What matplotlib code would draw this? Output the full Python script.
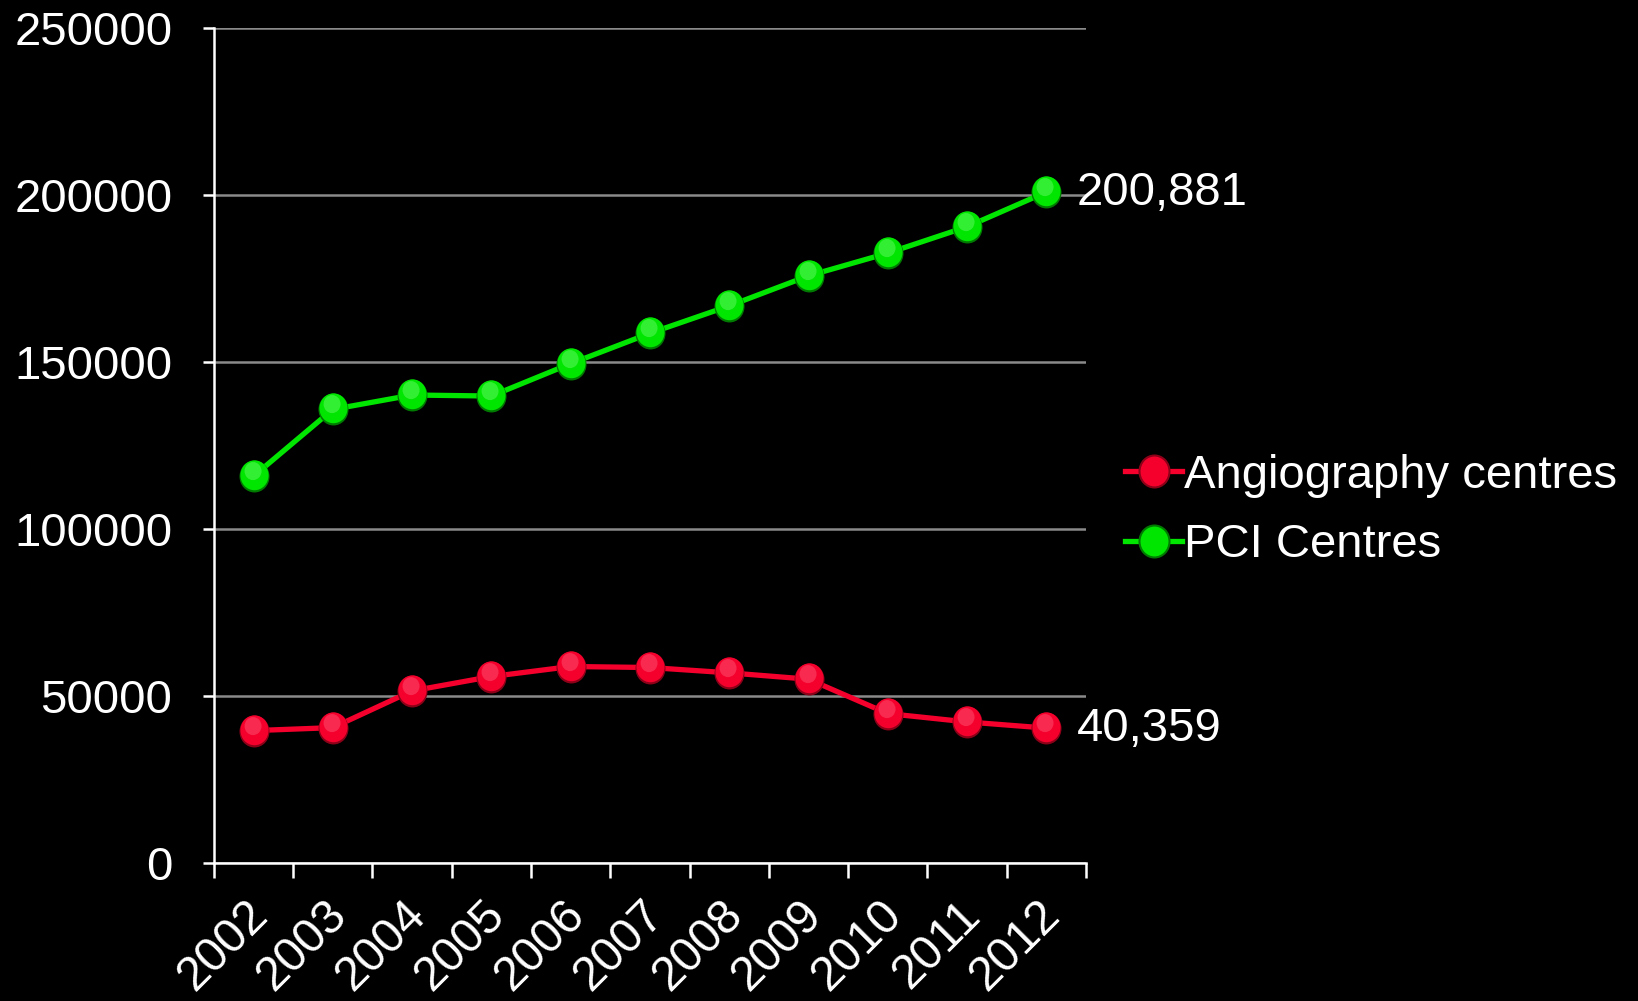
"""Angiography vs PCI centres, 2002-2012 (dark slide style line chart)."""

import matplotlib

matplotlib.use("Agg")
import matplotlib.pyplot as plt
from matplotlib.lines import Line2D
from matplotlib.markers import MarkerStyle
from matplotlib.transforms import Affine2D, ScaledTranslation

plt.rcParams["font.family"] = ["Liberation Sans", "DejaVu Sans"]

YEARS = ["2002", "2003", "2004", "2005", "2006", "2007",
         "2008", "2009", "2010", "2011", "2012"]
ANGIO = [39600, 40500, 51500, 55800, 58800, 58500,
         56900, 55000, 44700, 42200, 40359]
PCI = [115800, 135800, 140100, 139800, 149500, 158600,
       166800, 175800, 182600, 190500, 200881]
Y_TICKS = [0, 50000, 100000, 150000, 200000, 250000]

SERIES = [
    ("Angiography centres", ANGIO, "#F5002D", "#8C0018", "#FF6A85"),
    ("PCI Centres", PCI, "#00E600", "#007A00", "#80FF80"),
]

FS = 34


def egg(dx=0.0, dy=0.0):
    return MarkerStyle("o", transform=Affine2D().scale(0.94, 1.0).translate(dx, dy))


def draw_spheres(target, xs, ys, color, dark, light, **line_kw):
    # dark rim, main body nudged up, soft highlight towards the top
    target.plot(xs, ys, color=color, lw=3.8, marker=egg(), ms=23,
                mfc=dark, mec="none", zorder=3, **line_kw)
    target.plot(xs, ys, ls="none", marker=egg(0, 0.04), ms=21.5,
                mfc=color, mec="none", zorder=4)
    target.plot(xs, ys, ls="none", marker=egg(-0.08, 0.3), ms=13,
                mfc=light, mec="none", alpha=0.4, zorder=5)


fig = plt.figure(figsize=(16.38, 10.01), dpi=100, facecolor="black")
ax = fig.add_axes([0.1306, 0.138, 0.5324, 0.834], facecolor="black")

x = list(range(len(YEARS)))
for name, values, color, dark, light in SERIES:
    draw_spheres(ax, x, values, color, dark, light)

# end-of-series value labels
for values in (PCI, ANGIO):
    ax.annotate(f"{values[-1]:,}", (x[-1], values[-1]), xytext=(22, -1),
                textcoords="offset points", ha="left", va="center",
                color="white", fontsize=FS)

ax.set_xlim(-0.5, len(YEARS) - 0.5)
ax.set_ylim(0, 250000)
ax.set_yticks(Y_TICKS)
ax.set_yticklabels([str(v) for v in Y_TICKS])
ax.yaxis.grid(True, color="#8a8a8a", lw=1.8)
ax.set_axisbelow(True)

# ticks on category boundaries, labels on category centres
ax.set_xticks([i - 0.5 for i in range(len(YEARS) + 1)])
ax.set_xticklabels([])
ax.set_xticks(x, minor=True)
ax.set_xticklabels(YEARS, minor=True, rotation=45, ha="right",
                   va="top", rotation_mode="anchor")
ax.tick_params(axis="x", which="major", length=11, width=1.8,
               color="white", direction="out")
ax.tick_params(axis="x", which="minor", length=0, pad=21,
               labelsize=34.5, labelcolor="white")
ax.tick_params(axis="y", length=8, width=1.8, color="white",
               pad=22, labelsize=FS, labelcolor="white")
shift = ScaledTranslation(-0.09, 0, fig.dpi_scale_trans)
for lbl in ax.get_xticklabels(minor=True):
    lbl.set_transform(lbl.get_transform() + shift)

for side in ("top", "right"):
    ax.spines[side].set_visible(False)
for side in ("left", "bottom"):
    ax.spines[side].set_color("white")
    ax.spines[side].set_linewidth(1.8)

handles = [Line2D([], [], color=c, lw=3.8, marker=egg(), ms=23,
                  mfc=c, mec=d, mew=1.5)
           for _, _, c, d, _ in SERIES]
labels = [name for name, *_ in SERIES]
leg = fig.legend(handles, labels, loc="center left",
                 bbox_to_anchor=(0.6755, 0.490), frameon=False,
                 fontsize=FS, handlelength=1.2, handletextpad=0.05,
                 labelspacing=0.55, borderaxespad=0)
for text in leg.get_texts():
    text.set_color("white")

fig.savefig("out.png", dpi=100, facecolor="black")
